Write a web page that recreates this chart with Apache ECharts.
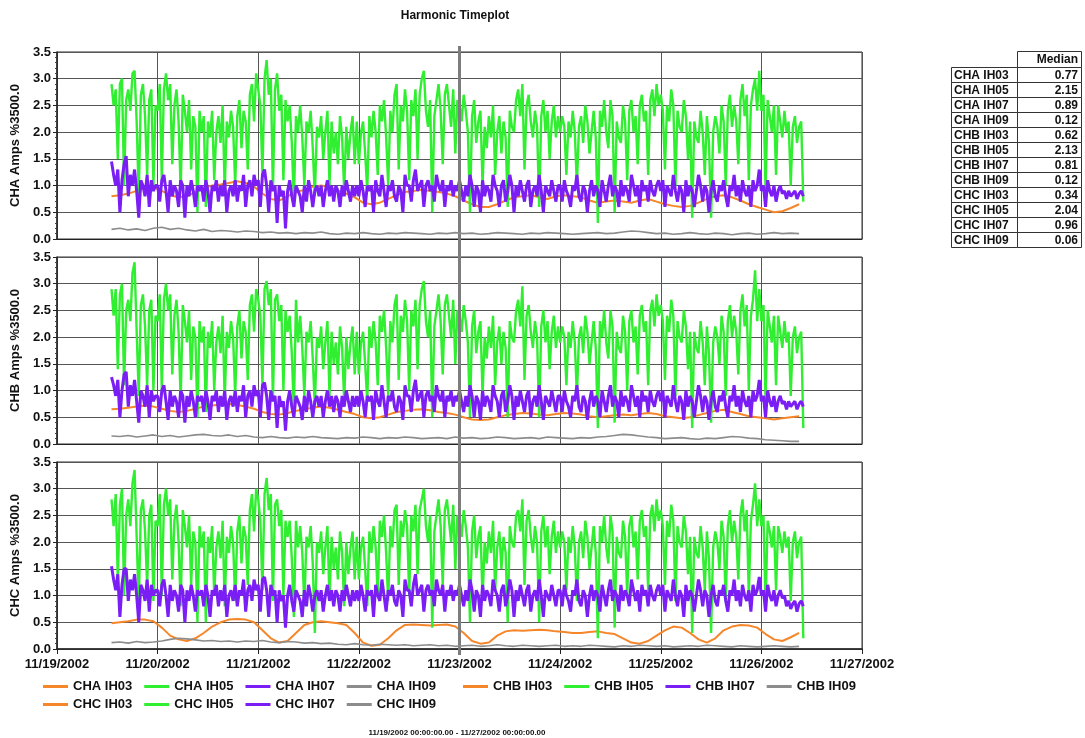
<!DOCTYPE html>
<html>
<head>
<meta charset="utf-8">
<script src="https://cdn.jsdelivr.net/npm/echarts@6/dist/echarts.min.js"></script>
<style>
html,body{margin:0;padding:0;background:#fff;}
#chart{width:1085px;height:738px;}
</style>
</head>
<body>
<div id="chart"></div>
<script>
// ---------- DATA ----------
const dayLabels = ['11/19/2002','11/20/2002','11/21/2002','11/22/2002','11/23/2002','11/24/2002','11/25/2002','11/26/2002','11/27/2002'];
const yTicks = [0, 0.5, 1.0, 1.5, 2.0, 2.5, 3.0, 3.5];
const channels = ['CHA', 'CHB', 'CHC'];
const harmonics = ['IH03', 'IH05', 'IH07', 'IH09'];
const fastStartHour = 13, fastStepHour = 0.5; // IH05 / IH07 samples (hours since 11/19 00:00)
const slowStartHour = 13, slowStepHour = 2;   // IH03 / IH09 samples
const markerHour = 96; // 11/23/2002 00:00

const tableLabels = ['CHA IH03','CHA IH05','CHA IH07','CHA IH09','CHB IH03','CHB IH05','CHB IH07','CHB IH09','CHC IH03','CHC IH05','CHC IH07','CHC IH09'];
const medians = ['0.77','2.15','0.89','0.12','0.62','2.13','0.81','0.12','0.34','2.04','0.96','0.06'];

const CHA_IH05 = [
2.9,2.5,2.8,1.5,2.9,3.0,1.0,2.6,2.8,2.4,3.1,3.15,
2.2,0.8,2.7,2.9,2.3,1.2,2.6,2.8,1.0,2.5,
2.4,2.9,1.1,2.8,3.1,2.6,2.9,1.4,2.5,2.8,2.2,0.9,
2.7,2.4,2.0,2.6,1.3,2.3,2.1,0.5,2.4,2.0,2.3,0.6,
2.2,1.9,2.4,1.1,2.0,2.3,1.8,2.5,0.9,2.2,1.9,2.4,
2.1,1.0,2.3,2.6,1.7,2.4,2.2,1.3,2.7,2.9,2.2,3.1,
2.8,2.5,1.2,3.0,3.35,2.7,3.0,0.9,2.8,3.1,2.4,2.7,
1.1,2.6,2.2,2.5,1.8,0.7,2.3,2.0,2.5,1.9,1.0,2.2,
2.0,2.4,1.7,0.8,2.1,1.9,2.3,1.5,2.0,2.4,1.0,2.2,
1.6,2.0,1.4,2.3,1.9,0.9,2.1,1.5,2.0,2.3,1.4,2.2,
1.4,2.0,2.2,1.6,0.9,2.3,1.9,2.4,2.0,1.2,2.5,2.2,
2.6,1.9,1.0,2.4,2.0,2.7,2.9,1.3,2.5,2.2,2.8,2.4,
1.1,2.6,2.3,2.8,1.5,2.7,3.0,3.15,2.4,2.1,2.6,0.5,
2.3,2.6,2.9,2.4,1.4,2.7,2.9,2.5,2.1,2.8,1.6,2.6,
2.5,2.2,2.7,2.4,2.0,0.5,2.3,2.6,1.8,2.2,2.4,1.0,
2.1,1.7,2.3,1.9,2.5,1.2,2.0,2.3,1.6,2.2,1.9,0.6,
2.4,2.1,2.0,2.6,2.8,2.3,2.9,1.3,2.5,2.7,2.2,1.9,
2.4,2.1,0.6,2.3,2.6,2.0,2.4,1.5,2.2,2.5,1.9,2.3,
2.0,2.3,2.1,1.2,2.2,1.9,2.4,2.0,1.0,2.1,2.3,1.8,
2.5,2.2,1.6,2.0,2.4,1.9,0.3,2.4,2.1,2.6,2.0,1.7,
2.6,2.3,0.5,2.2,1.9,1.8,2.5,2.2,1.1,2.4,2.6,2.0,
2.3,1.4,2.5,2.7,2.2,2.4,1.2,2.6,2.8,2.3,2.9,2.5,
2.7,2.4,1.3,2.5,2.2,2.8,2.5,1.0,2.4,2.1,2.0,2.6,
2.3,1.5,2.2,0.4,2.2,1.9,1.8,2.4,2.0,1.2,2.3,1.8,
0.4,2.0,2.3,2.1,1.6,2.5,2.2,1.0,2.4,2.7,2.1,2.5,
2.2,1.4,2.6,2.9,2.3,2.7,1.1,2.5,2.8,3.0,2.4,3.15,
2.4,2.7,0.9,2.6,2.3,2.0,2.5,1.2,2.5,2.2,1.9,2.4,
2.0,2.2,1.0,2.1,2.3,1.8,2.1,2.2,0.7
];
const CHA_IH07 = [
1.45,1.2,1.0,1.3,0.5,1.1,1.4,1.55,0.8,1.2,1.0,1.3,
0.9,0.4,1.1,1.0,0.8,1.2,0.6,1.1,0.9,1.0,
1.0,0.7,1.1,1.2,0.9,0.5,1.1,0.8,1.0,0.9,0.6,1.1,
1.0,0.4,1.0,0.8,1.1,0.9,0.6,1.0,0.9,1.0,0.7,1.1,
0.9,0.5,1.0,0.9,1.1,0.7,1.0,0.8,1.1,0.5,0.9,1.0,
0.8,1.1,0.7,1.0,0.9,1.2,0.6,1.0,1.1,0.8,1.2,1.0,
1.1,0.6,1.2,1.3,1.0,0.5,1.1,0.9,1.0,0.3,1.0,0.8,
0.9,0.2,0.9,1.1,0.8,0.6,1.0,0.9,0.8,0.5,1.0,0.7,
1.1,0.9,0.6,0.9,1.0,0.8,1.0,0.6,0.9,1.1,0.8,1.0,
0.7,1.0,0.9,0.6,1.0,0.8,1.1,0.9,0.7,1.0,0.8,1.0,
0.8,1.1,0.9,0.6,1.0,0.9,1.0,0.5,1.1,0.9,0.8,1.2,
0.9,0.6,1.0,0.9,1.1,0.8,0.7,1.0,0.9,0.5,1.2,1.0,
1.0,0.7,1.1,1.3,0.9,1.0,1.1,0.6,1.0,1.1,0.9,1.0,
0.7,1.2,1.0,0.9,1.1,0.6,1.0,0.9,1.1,0.8,1.0,0.9,
1.1,0.9,0.7,1.0,0.8,1.2,1.0,0.6,1.0,0.9,0.5,1.1,
0.8,1.0,0.9,0.7,1.2,1.0,0.9,0.6,1.0,1.1,0.7,0.9,
1.2,1.0,0.5,1.0,0.8,1.1,0.9,0.7,1.0,1.1,0.6,0.9,
1.0,0.8,1.2,0.9,0.5,1.0,0.9,0.8,1.1,0.9,0.7,1.0,
1.0,0.7,1.1,0.9,0.8,0.6,1.0,0.9,1.2,0.8,0.7,1.0,
0.9,0.5,0.9,1.1,0.8,1.0,0.9,0.6,1.1,0.9,0.7,1.0,
1.2,0.8,1.0,0.9,0.6,1.1,0.8,1.0,0.9,0.7,1.2,1.0,
0.8,1.0,0.6,1.1,0.9,1.0,0.7,1.1,0.9,0.8,1.0,1.1,
0.9,1.1,0.6,1.0,0.9,0.8,1.2,0.9,0.7,1.0,0.9,0.5,
1.1,0.8,1.0,0.9,0.6,0.9,1.2,1.0,0.7,1.0,0.9,0.5,
0.9,1.1,0.8,0.7,1.0,0.9,1.1,0.8,0.6,1.0,0.9,1.2,
0.8,1.0,0.7,1.1,0.9,0.8,1.0,0.6,1.1,0.9,1.0,1.3,
0.9,1.0,0.6,1.1,0.9,0.8,1.0,0.7,0.9,1.0,0.85,0.9,
0.75,0.9,0.8,0.85,0.9,0.75,0.85,0.9,0.8
];
const CHA_IH03 = [
0.8,0.82,0.85,0.9,0.95,0.97,0.9,0.82,0.78,0.8,
0.88,0.95,1.0,1.02,1.05,1.08,1.05,0.98,0.85,0.75,
0.72,0.8,0.88,0.92,0.98,1.0,0.97,0.9,0.85,0.78,
0.68,0.65,0.68,0.75,0.82,0.88,0.9,0.92,0.9,0.88,
0.85,0.8,0.72,0.65,0.6,0.6,0.65,0.72,0.78,0.8,
0.82,0.78,0.75,0.8,0.82,0.8,0.78,0.72,0.68,0.7,
0.72,0.7,0.68,0.72,0.75,0.7,0.65,0.62,0.6,0.62,
0.68,0.75,0.8,0.82,0.78,0.72,0.65,0.6,0.55,0.5,
0.52,0.58,0.65
];
const CHA_IH09 = [
0.18,0.2,0.17,0.19,0.16,0.2,0.22,0.18,0.2,0.17,
0.15,0.18,0.14,0.16,0.15,0.13,0.15,0.14,0.12,0.13,
0.11,0.12,0.1,0.12,0.11,0.13,0.1,0.09,0.11,0.1,
0.12,0.1,0.09,0.11,0.1,0.12,0.11,0.1,0.09,0.11,
0.1,0.12,0.1,0.11,0.09,0.1,0.12,0.11,0.1,0.09,
0.11,0.1,0.12,0.11,0.1,0.09,0.1,0.11,0.12,0.1,
0.11,0.13,0.15,0.14,0.12,0.1,0.11,0.09,0.1,0.12,
0.1,0.09,0.11,0.1,0.08,0.1,0.11,0.09,0.1,0.12,
0.1,0.11,0.1
];

const CHB_IH05 = [
2.9,2.4,2.9,1.4,2.8,3.0,1.1,2.5,2.7,2.3,3.2,3.4,
2.1,0.9,2.6,2.8,2.2,1.1,2.5,2.7,1.0,2.4,
2.3,2.8,1.0,2.7,3.0,2.5,2.8,1.3,2.4,2.7,2.1,0.8,
2.6,2.3,1.9,2.5,1.2,2.2,2.0,0.5,2.3,1.9,2.2,0.6,
2.1,1.8,2.3,1.0,1.9,2.2,1.7,2.4,0.8,2.1,1.8,2.3,
2.0,0.9,2.2,2.5,1.6,2.3,2.1,1.2,2.6,2.8,2.1,2.9,
2.7,2.4,1.1,2.9,3.05,2.6,2.9,0.8,2.7,2.8,2.3,2.6,
1.0,2.5,2.1,2.4,1.7,0.6,2.7,1.9,2.4,1.8,0.9,2.1,
1.9,2.3,1.6,0.7,2.0,1.8,2.2,1.4,1.9,2.3,0.9,2.1,
1.5,1.9,1.3,2.2,1.8,0.8,2.0,1.4,1.9,2.2,1.3,2.1,
1.3,1.9,2.1,1.5,0.8,2.2,1.8,2.3,1.9,1.1,2.4,2.1,
2.5,1.8,0.9,2.3,1.9,2.6,2.8,1.2,2.4,2.1,2.7,2.3,
1.0,2.5,2.2,2.7,1.4,2.6,2.9,3.05,2.3,2.0,2.5,0.5,
2.2,2.5,2.8,2.3,1.3,2.6,2.8,2.4,2.0,2.7,1.5,2.5,
2.4,2.1,2.6,2.3,1.9,0.5,2.2,2.5,1.7,2.1,2.3,0.9,
2.0,1.6,2.2,1.8,2.4,1.1,1.9,2.2,1.5,2.1,1.8,0.5,
2.3,2.0,1.9,2.5,2.7,2.2,2.95,1.2,2.4,2.6,2.1,1.8,
2.3,2.0,0.5,2.2,2.5,1.9,2.3,1.4,2.1,2.4,1.8,2.2,
1.9,2.2,2.0,1.1,2.1,1.8,2.3,1.9,0.9,2.0,2.2,1.7,
2.4,2.1,1.5,1.9,2.3,1.8,0.3,2.3,2.0,2.5,1.9,1.6,
2.5,2.2,0.4,2.1,1.8,1.7,2.4,2.1,1.0,2.3,2.5,1.9,
2.2,1.3,2.4,2.6,2.1,2.3,1.1,2.5,2.7,2.2,2.8,2.4,
2.6,2.3,1.2,2.4,2.1,2.7,2.4,0.9,2.3,2.0,1.9,2.5,
2.2,1.4,2.1,0.3,2.1,1.8,1.7,2.3,1.9,1.1,2.2,1.7,
0.4,1.9,2.2,2.0,1.5,2.4,2.1,0.9,2.3,2.6,2.0,2.4,
2.1,1.3,2.5,2.8,2.2,2.6,1.0,2.4,2.7,3.25,2.3,2.9,
2.3,2.6,0.8,2.5,2.2,1.9,2.4,1.1,2.4,2.1,1.8,2.3,
1.9,2.1,0.9,2.0,2.2,1.7,2.0,2.1,0.3
];
const CHB_IH07 = [
1.25,1.1,0.9,1.2,0.5,1.0,1.3,1.35,0.7,1.1,0.9,1.2,
0.8,0.4,1.0,0.9,0.7,1.1,0.5,1.0,0.8,0.9,
0.9,0.6,1.0,1.1,0.8,0.45,1.0,0.7,0.9,0.8,0.5,1.0,
0.9,0.4,0.9,0.7,1.0,0.8,0.5,0.9,0.8,0.9,0.6,1.0,
0.8,0.45,0.9,0.8,1.0,0.6,0.9,0.7,1.0,0.45,0.8,0.9,
0.7,1.0,0.6,0.9,0.8,1.1,0.5,0.9,1.0,0.7,1.1,0.9,
1.0,0.5,1.1,1.15,0.9,0.45,1.0,0.8,0.9,0.3,0.9,0.7,
0.8,0.25,0.8,1.0,0.7,0.5,0.9,0.8,0.7,0.45,0.9,0.6,
1.0,0.8,0.5,0.8,0.9,0.7,0.9,0.5,0.8,1.0,0.7,0.9,
0.6,0.9,0.8,0.5,0.9,0.7,1.0,0.8,0.6,0.9,0.7,0.9,
0.7,1.0,0.8,0.5,0.9,0.8,0.9,0.45,1.0,0.8,0.7,1.1,
0.8,0.5,0.9,0.8,1.0,0.7,0.6,0.9,0.8,0.45,1.1,0.9,
0.9,0.6,1.0,1.2,0.8,0.9,1.0,0.5,0.9,1.0,0.8,0.9,
0.6,1.1,0.9,0.8,1.0,0.5,0.9,0.8,1.0,0.7,0.9,0.8,
1.0,0.8,0.6,0.9,0.7,1.1,0.9,0.5,0.9,0.8,0.45,1.0,
0.7,0.9,0.8,0.6,1.1,0.9,0.8,0.5,0.9,1.0,0.6,0.8,
1.1,0.9,0.45,0.9,0.7,1.0,0.8,0.6,0.9,1.0,0.5,0.8,
0.9,0.7,1.1,0.8,0.45,0.9,0.8,0.7,1.0,0.8,0.6,0.9,
0.9,0.6,1.0,0.8,0.7,0.5,0.9,0.8,1.1,0.7,0.6,0.9,
0.8,0.45,0.8,1.0,0.7,0.9,0.8,0.5,1.0,0.8,0.6,0.9,
1.1,0.7,0.9,0.8,0.5,1.0,0.7,0.9,0.8,0.6,1.1,0.9,
0.7,0.9,0.5,1.0,0.8,0.9,0.6,1.0,0.8,0.7,0.9,1.0,
0.8,1.0,0.5,0.9,0.8,0.7,1.1,0.8,0.6,0.9,0.8,0.45,
1.0,0.7,0.9,0.8,0.5,0.8,1.1,0.9,0.6,0.9,0.8,0.45,
0.8,1.0,0.7,0.6,0.9,0.8,1.0,0.7,0.5,0.9,0.8,1.1,
0.7,0.9,0.6,1.0,0.8,0.7,0.9,0.5,1.0,0.8,0.9,1.2,
0.8,0.9,0.5,1.0,0.8,0.7,0.9,0.6,0.8,0.9,0.75,0.8,
0.65,0.8,0.7,0.75,0.8,0.65,0.75,0.8,0.7
];
const CHB_IH03 = [
0.65,0.66,0.68,0.7,0.72,0.7,0.66,0.62,0.6,0.62,
0.66,0.7,0.72,0.74,0.75,0.73,0.7,0.66,0.6,0.56,
0.55,0.58,0.62,0.65,0.68,0.7,0.68,0.64,0.6,0.56,
0.5,0.48,0.5,0.55,0.6,0.62,0.64,0.65,0.63,0.6,
0.58,0.55,0.5,0.46,0.45,0.46,0.5,0.54,0.56,0.58,
0.57,0.55,0.54,0.56,0.58,0.57,0.55,0.52,0.5,0.52,
0.54,0.55,0.54,0.56,0.58,0.56,0.52,0.5,0.48,0.5,
0.54,0.58,0.62,0.64,0.6,0.56,0.52,0.5,0.48,0.46,
0.48,0.5,0.52
];
const CHB_IH09 = [
0.15,0.14,0.16,0.13,0.15,0.17,0.14,0.16,0.13,0.15,
0.17,0.18,0.16,0.15,0.17,0.14,0.16,0.13,0.12,0.14,
0.12,0.11,0.13,0.12,0.14,0.12,0.11,0.1,0.12,0.11,
0.13,0.12,0.1,0.12,0.11,0.13,0.12,0.1,0.11,0.12,
0.1,0.13,0.11,0.12,0.1,0.11,0.13,0.12,0.1,0.11,
0.12,0.1,0.13,0.12,0.11,0.1,0.12,0.11,0.13,0.14,
0.16,0.18,0.17,0.15,0.13,0.12,0.1,0.11,0.12,0.1,
0.09,0.11,0.1,0.12,0.14,0.13,0.11,0.1,0.08,0.07,
0.06,0.05,0.05
];

const CHC_IH05 = [
2.8,2.3,2.9,1.3,2.7,3.0,1.0,2.5,2.8,2.3,3.1,3.35,
2.1,0.8,2.6,2.8,2.2,1.2,2.5,2.7,0.9,2.4,
2.3,2.9,1.0,2.7,3.0,2.5,2.8,1.3,2.4,2.7,2.0,0.8,
2.6,2.3,1.9,2.5,1.2,2.2,2.0,0.5,2.3,1.9,2.2,0.5,
2.1,1.8,2.3,1.0,1.9,2.2,1.7,2.4,0.8,2.1,1.8,2.3,
2.0,0.9,2.2,2.5,1.6,2.3,2.1,1.2,2.6,2.9,2.2,3.0,
2.8,2.4,1.1,2.9,3.2,2.6,2.9,0.9,2.7,2.8,2.3,2.6,
1.0,2.4,2.1,2.4,1.7,0.6,2.4,1.9,2.3,1.8,0.8,2.1,
1.9,2.3,1.6,0.3,2.0,1.8,2.2,1.4,1.9,2.3,0.9,2.1,
1.5,1.9,1.3,2.2,1.8,0.8,2.0,1.4,1.9,2.2,1.3,2.1,
1.3,1.9,2.1,1.5,0.8,2.2,1.8,2.3,1.9,1.0,2.4,2.1,
2.5,1.8,0.9,2.3,1.9,2.6,2.7,1.2,2.4,2.1,2.6,2.3,
1.0,2.5,2.2,2.7,1.4,2.6,2.8,3.0,2.3,2.0,2.5,0.4,
2.2,2.5,2.8,2.3,1.2,2.6,2.8,2.4,2.0,2.7,1.5,2.5,
2.4,2.1,2.6,2.3,1.9,0.5,2.2,2.5,1.7,2.1,2.3,0.9,
2.0,1.6,2.2,1.8,2.4,1.1,1.9,2.2,1.5,2.1,1.8,0.5,
2.3,2.0,1.9,2.5,2.6,2.2,2.8,1.2,2.4,2.6,2.1,1.8,
2.3,2.0,0.5,2.2,2.5,1.9,2.3,1.4,2.1,2.4,1.8,2.2,
1.9,2.2,2.0,1.1,2.1,1.8,2.3,1.9,0.9,2.0,2.2,1.7,
2.4,2.1,1.5,1.9,2.3,1.8,0.2,2.3,2.0,2.5,1.9,1.6,
2.5,2.2,0.4,2.1,1.8,1.7,2.4,2.1,1.0,2.3,2.5,1.9,
2.2,1.3,2.4,2.6,2.1,2.3,1.1,2.5,2.7,2.2,2.8,2.4,
2.6,2.3,1.2,2.4,2.1,2.7,2.4,0.9,2.3,2.0,1.9,2.5,
2.2,1.4,2.1,0.3,2.1,1.8,1.7,2.3,1.9,1.1,2.2,1.7,
0.3,1.9,2.2,2.0,1.5,2.4,2.1,0.9,2.3,2.6,2.0,2.4,
2.1,1.3,2.5,2.8,2.2,2.6,1.0,2.4,2.7,3.1,2.3,2.8,
2.3,2.5,0.8,2.4,2.2,1.9,2.3,1.1,2.3,2.1,1.8,2.2,
1.9,2.1,0.9,2.0,2.2,1.7,2.0,2.1,0.2
];
const CHC_IH07 = [
1.55,1.3,1.1,1.4,0.6,1.2,1.5,1.5,0.9,1.3,1.1,1.4,
1.0,0.5,1.2,1.1,0.9,1.3,0.7,1.2,1.0,1.1,
1.1,0.8,1.2,1.3,1.0,0.6,1.2,0.9,1.1,1.0,0.7,1.2,
1.1,0.5,1.1,0.9,1.2,1.0,0.7,1.1,1.0,1.1,0.8,1.2,
1.0,0.6,1.1,1.0,1.2,0.8,1.1,0.9,1.2,0.6,1.0,1.1,
0.9,1.2,0.8,1.1,1.0,1.3,0.7,1.1,1.2,0.9,1.3,1.1,
1.2,0.7,1.3,1.35,1.1,0.6,1.2,1.0,1.1,0.5,1.1,0.9,
1.0,0.4,1.0,1.2,0.9,0.7,1.1,1.0,0.9,0.6,1.1,0.8,
1.2,1.0,0.7,1.0,1.1,0.9,1.1,0.7,1.0,1.2,0.9,1.1,
0.8,1.1,1.0,0.7,1.1,0.9,1.2,1.0,0.8,1.1,0.9,1.1,
0.9,1.2,1.0,0.7,1.1,1.0,1.1,0.6,1.2,1.0,0.9,1.3,
1.0,0.7,1.1,1.0,1.2,0.9,0.8,1.1,1.0,0.6,1.3,1.1,
1.1,0.8,1.2,1.4,1.0,1.1,1.2,0.7,1.1,1.2,1.0,1.1,
0.8,1.3,1.1,1.0,1.2,0.7,1.1,1.0,1.2,0.9,1.1,1.0,
1.2,1.0,0.8,1.1,0.9,1.3,1.1,0.7,1.1,1.0,0.6,1.2,
0.9,1.1,1.0,0.8,1.3,1.1,1.0,0.7,1.1,1.2,0.8,1.0,
1.3,1.1,0.6,1.1,0.9,1.2,1.0,0.8,1.1,1.2,0.7,1.0,
1.1,0.9,1.3,1.0,0.6,1.1,1.0,0.9,1.2,1.0,0.8,1.1,
1.1,0.8,1.2,1.0,0.9,0.7,1.1,1.0,1.3,0.9,0.8,1.1,
1.0,0.6,1.0,1.2,0.9,1.1,1.0,0.7,1.2,1.0,0.8,1.1,
1.3,0.9,1.1,1.0,0.7,1.2,0.9,1.1,1.0,0.8,1.3,1.1,
0.9,1.1,0.7,1.2,1.0,1.1,0.8,1.2,1.0,0.9,1.1,1.2,
1.0,1.2,0.7,1.1,1.0,0.9,1.3,1.0,0.8,1.1,1.0,0.6,
1.2,0.9,1.1,1.0,0.7,1.0,1.3,1.1,0.8,1.1,1.0,0.6,
1.0,1.2,0.9,0.8,1.1,1.0,1.2,0.9,0.7,1.1,1.0,1.3,
0.9,1.1,0.8,1.2,1.0,0.9,1.1,0.7,1.2,1.0,1.1,1.35,
1.0,1.1,0.7,1.2,1.0,0.9,1.1,0.8,1.0,1.1,0.95,1.0,
0.8,0.9,0.75,0.85,0.9,0.7,0.85,0.9,0.8
];
const CHC_IH03 = [
0.48,0.5,0.52,0.55,0.55,0.52,0.4,0.25,0.18,0.15,
0.2,0.3,0.42,0.5,0.55,0.56,0.55,0.5,0.35,0.2,
0.12,0.15,0.3,0.45,0.5,0.52,0.5,0.48,0.45,0.3,
0.12,0.06,0.08,0.2,0.35,0.45,0.46,0.45,0.44,0.45,
0.46,0.42,0.3,0.15,0.1,0.12,0.25,0.33,0.35,0.34,
0.35,0.36,0.35,0.33,0.32,0.3,0.3,0.32,0.33,0.3,
0.28,0.2,0.12,0.1,0.15,0.25,0.35,0.42,0.4,0.3,
0.18,0.12,0.2,0.35,0.42,0.45,0.44,0.4,0.28,0.18,
0.15,0.22,0.3
];
const CHC_IH09 = [
0.12,0.13,0.11,0.14,0.12,0.13,0.15,0.18,0.2,0.19,
0.17,0.15,0.16,0.14,0.15,0.13,0.15,0.14,0.16,0.13,
0.12,0.14,0.13,0.11,0.12,0.1,0.11,0.09,0.08,0.1,
0.08,0.07,0.09,0.08,0.07,0.08,0.06,0.07,0.08,0.06,
0.07,0.05,0.06,0.07,0.05,0.06,0.08,0.06,0.05,0.07,
0.06,0.05,0.06,0.07,0.05,0.06,0.05,0.07,0.06,0.05,
0.04,0.06,0.05,0.07,0.06,0.05,0.06,0.04,0.05,0.06,
0.05,0.07,0.06,0.05,0.04,0.06,0.05,0.04,0.05,0.06,
0.05,0.04,0.05
];

// ---------- BUILD ----------
const seriesData = {
  CHA: [CHA_IH03, CHA_IH05, CHA_IH07, CHA_IH09],
  CHB: [CHB_IH03, CHB_IH05, CHB_IH07, CHB_IH09],
  CHC: [CHC_IH03, CHC_IH05, CHC_IH07, CHC_IH09]
};
const colors = ['#F5862A', '#30EE30', '#7A1EF5', '#8C8C8C'];
const widths = [2, 2.4, 3, 1.6];
const isFast = [false, true, true, false];

const FONT = '"Liberation Sans", Arial, sans-serif';
const gridLeft = 57, gridRight = 223, panelH = 187;
const panelTops = [52, 257, 462];

function toPairs(arr, start, step) { return arr.map((v, i) => [start + i * step, v]); }

const grids = [], xAxes = [], yAxes = [], series = [];
channels.forEach((ch, p) => {
  grids.push({ left: gridLeft, right: gridRight, top: panelTops[p], height: panelH, show: true, borderColor: '#333', borderWidth: 1, backgroundColor: 'transparent' });
  const last = p === 2;
  xAxes.push({
    type: 'value', gridIndex: p, min: 0, max: 192, interval: 24,
    axisLine: { show: true, onZero: false, lineStyle: { color: '#222', width: last ? 1.5 : 1 } },
    axisTick: { show: last, length: 5, lineStyle: { color: '#222' } },
    axisLabel: { show: last, margin: 9, fontFamily: FONT, fontWeight: 'bold', fontSize: 13, color: '#111',
      formatter: v => dayLabels[Math.round(v / 24)] },
    splitLine: { show: true, lineStyle: { color: '#555', width: 1 } }
  });
  yAxes.push({
    type: 'value', gridIndex: p, min: 0, max: 3.5, interval: 0.5,
    name: ch + ' Amps %3500.0', nameLocation: 'middle', nameGap: 34, nameRotate: 90,
    nameTextStyle: { fontFamily: FONT, fontWeight: 'bold', fontSize: 13, color: '#111' },
    axisLine: { show: true, lineStyle: { color: '#222', width: 1.5 } },
    axisTick: { show: true, length: 4, lineStyle: { color: '#222' } },
    minorTick: { show: true, splitNumber: 5, length: 2, lineStyle: { color: '#444' } },
    axisLabel: { margin: 6, fontFamily: FONT, fontWeight: 'bold', fontSize: 13, color: '#111', formatter: v => v.toFixed(1) },
    splitLine: { show: true, lineStyle: { color: '#555', width: 1 } }
  });
  harmonics.forEach((h, k) => {
    const arr = seriesData[ch][k];
    series.push({
      name: ch + ' ' + h, type: 'line', xAxisIndex: p, yAxisIndex: p,
      data: isFast[k] ? toPairs(arr, fastStartHour, fastStepHour) : toPairs(arr, slowStartHour, slowStepHour),
      showSymbol: false, symbol: 'none', smooth: false,
      lineStyle: { color: colors[k], width: widths[k] }, itemStyle: { color: colors[k] },
      emphasis: { disabled: true }, silent: true, z: 2 + k
    });
  });
});

// overlay grid for the vertical marker line crossing all panels
grids.push({ left: gridLeft, right: gridRight, top: 46, bottom: 738 - 655, show: false });
xAxes.push({ type: 'value', gridIndex: 3, min: 0, max: 192, show: false });
yAxes.push({ type: 'value', gridIndex: 3, min: 0, max: 1, show: false });
series.push({
  type: 'line', xAxisIndex: 3, yAxisIndex: 3, data: [[markerHour, -1]], symbol: 'none', silent: true,
  lineStyle: { opacity: 0 }, z: 10,
  markLine: { silent: true, symbol: 'none', label: { show: false }, animation: false,
    lineStyle: { color: '#7d7d7d', width: 3, type: 'solid', opacity: 1 },
    data: [{ xAxis: markerHour }] }
});

const legendCommon = {
  icon: 'rect', itemWidth: 25, itemHeight: 3, itemGap: 12, selectedMode: false, orient: 'horizontal',
  textStyle: { fontFamily: FONT, fontWeight: 'bold', fontSize: 13, color: '#111', padding: [0, 0, 0, 0] }
};
const legends = [
  Object.assign({}, legendCommon, { left: 38, top: 675, data: harmonics.map(h => 'CHA ' + h) }),
  Object.assign({}, legendCommon, { left: 458, top: 675, data: harmonics.map(h => 'CHB ' + h) }),
  Object.assign({}, legendCommon, { left: 38, top: 693, data: harmonics.map(h => 'CHC ' + h) })
];

// table
const tX = 951, c1W = 66, c2W = 64, tY = 51, hH = 16, rH = 15;
const graphic = [];
graphic.push({ type: 'rect', shape: { x: tX + c1W + 0.5, y: tY + 0.5, width: c2W, height: hH }, style: { fill: '#fff', stroke: '#333', lineWidth: 1 } });
graphic.push({ type: 'text', x: tX + c1W + c2W - 3, y: tY + hH / 2 + 1, style: { text: 'Median', align: 'right', verticalAlign: 'middle', font: 'bold 12px ' + FONT, fill: '#111' } });
tableLabels.forEach((lab, i) => {
  const y = tY + hH + i * rH;
  graphic.push({ type: 'rect', shape: { x: tX + 0.5, y: y + 0.5, width: c1W, height: rH }, style: { fill: '#fff', stroke: '#333', lineWidth: 1 } });
  graphic.push({ type: 'rect', shape: { x: tX + c1W + 0.5, y: y + 0.5, width: c2W, height: rH }, style: { fill: '#fff', stroke: '#333', lineWidth: 1 } });
  graphic.push({ type: 'text', x: tX + 3, y: y + rH / 2 + 1, style: { text: lab, align: 'left', verticalAlign: 'middle', font: 'bold 12px ' + FONT, fill: '#111' } });
  graphic.push({ type: 'text', x: tX + c1W + c2W - 3, y: y + rH / 2 + 1, style: { text: medians[i], align: 'right', verticalAlign: 'middle', font: 'bold 12px ' + FONT, fill: '#111' } });
});

const option = {
  animation: false,
  backgroundColor: '#fff',
  title: [
    { text: 'Harmonic Timeplot', left: 450, top: 5, textAlign: 'center', textStyle: { fontFamily: FONT, fontWeight: 'bold', fontSize: 12, color: '#111' } },
    { text: dayLabels[0] + ' 00:00:00.00 - ' + dayLabels[8] + ' 00:00:00.00', left: 452, top: 724, textAlign: 'center', textStyle: { fontFamily: FONT, fontWeight: 'bold', fontSize: 8, color: '#111' } }
  ],
  legend: legends,
  grid: grids, xAxis: xAxes, yAxis: yAxes, series: series,
  graphic: graphic
};

const chart = echarts.init(document.getElementById('chart'), null, { renderer: 'canvas' });
chart.setOption(option);
</script>
</body>
</html>
